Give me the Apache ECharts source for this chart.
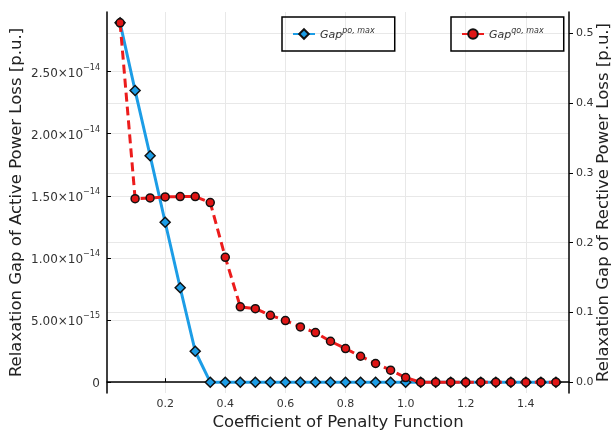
<!DOCTYPE html>
<html>
<head>
<meta charset="utf-8">
<script src="https://cdn.jsdelivr.net/npm/echarts@6/dist/echarts.min.js"></script>
<style>
  html, body { margin: 0; padding: 0; background: #fff; }
  #chart { width: 615px; height: 433px; }
</style>
</head>
<body>
<div id="chart"></div>
<script>
// coefficient of penalty function
const coef = [0.05, 0.10, 0.15, 0.20, 0.25, 0.30, 0.35, 0.40, 0.45, 0.50,
              0.55, 0.60, 0.65, 0.70, 0.75, 0.80, 0.85, 0.90, 0.95, 1.00,
              1.05, 1.10, 1.15, 1.20, 1.25, 1.30, 1.35, 1.40, 1.45, 1.50];
// active power loss gap (left axis)
const gapPo = [2.892e-14, 2.347e-14, 1.822e-14, 1.287e-14, 0.760e-14, 0.249e-14, 0, 0, 0, 0,
               0, 0, 0, 0, 0, 0, 0, 0, 0, 0,
               0, 0, 0, 0, 0, 0, 0, 0, 0, 0];
// reactive power loss gap (right axis)
const gapQo = [0.515, 0.263, 0.264, 0.2655, 0.266, 0.266, 0.2575, 0.179, 0.108, 0.1054,
               0.0959, 0.0883, 0.0793, 0.0711, 0.0587, 0.0482, 0.0372, 0.0268, 0.0172, 0.0067,
               0, 0, 0, 0, 0, 0, 0, 0, 0, 0];

const xTicks = [0.2, 0.4, 0.6, 0.8, 1.0, 1.2, 1.4];
const leftTicks = [0, 5e-15, 1e-14, 1.5e-14, 2e-14, 2.5e-14];
const leftMant = ['0', '5.00', '1.00', '1.50', '2.00', '2.50'];
const leftExp = ['', '−15', '−14', '−14', '−14', '−14'];
const rightTicks = [0, 0.1, 0.2, 0.3, 0.4, 0.5];

const pairs = (ys) => coef.map((x, i) => [x, ys[i]]);

const fontFamily = 'DejaVu Sans';
const gridColor = '#e8e8e8';

const legendRich = {
  g: { fontSize: 11, fontStyle: 'italic', color: '#333', lineHeight: 14, verticalAlign: 'bottom' },
  s: { fontSize: 8, fontStyle: 'italic', color: '#333', lineHeight: 14, verticalAlign: 'top', padding: [0, 0, 5, 0] }
};

const chart = echarts.init(document.getElementById('chart'));
chart.setOption({
  animation: false,
  textStyle: { fontFamily: fontFamily },
  grid: { left: 107, right: 46, top: 12, bottom: 40, containLabel: false, outerBoundsMode: 'none' },
  legend: [
    {
      data: ['po'],
      left: 282, top: 17,
      padding: [10, 20, 10, 10],
      borderColor: '#000', borderWidth: 1.5,
      itemWidth: 22, itemHeight: 12,
      formatter: () => '{g|Gap}{s|po, max}',
      textStyle: { rich: legendRich }
    },
    {
      data: ['qo'],
      left: 451, top: 17,
      padding: [10, 20, 10, 10],
      borderColor: '#000', borderWidth: 1.5,
      itemWidth: 22, itemHeight: 12,
      formatter: () => '{g|Gap}{s|qo, max}',
      textStyle: { rich: legendRich }
    }
  ],
  xAxis: {
    type: 'value',
    min: 0.0065, max: 1.5435,
    name: 'Coefficient of Penalty Function',
    nameLocation: 'middle', nameGap: 21, nameMoveOverlap: false,
    nameTextStyle: { fontSize: 16.5, color: '#222' },
    axisLine: { show: true, lineStyle: { color: '#000', width: 1.5 } },
    axisTick: { show: true, inside: true, length: 4, customValues: xTicks, lineStyle: { color: '#000' } },
    axisLabel: { customValues: xTicks, fontSize: 11, color: '#333', margin: 6,
                 formatter: (v) => v.toFixed(1) },
    splitLine: { show: true, lineStyle: { color: gridColor } }
  },
  yAxis: [
    {
      type: 'value',
      min: -8.68e-16, max: 2.979e-14,
      name: 'Relaxation Gap of Active Power Loss [p.u.]',
      nameLocation: 'middle', nameGap: 82, nameMoveOverlap: false,
      nameTextStyle: { fontSize: 16.5, color: '#222' },
      axisLine: { show: true, lineStyle: { color: '#000', width: 1.5 } },
      axisTick: { show: true, inside: true, length: 4, customValues: leftTicks, lineStyle: { color: '#000' } },
      axisLabel: {
        customValues: leftTicks, margin: 7,
        formatter: (v) => {
          let i = 0;
          leftTicks.forEach((t, k) => { if (Math.abs(t - v) < Math.abs(leftTicks[i] - v)) i = k; });
          if (!leftExp[i]) return '{m|' + leftMant[i] + '}';
          return '{m|' + leftMant[i] + '×10}{e|' + leftExp[i] + '}';
        },
        rich: {
          m: { fontSize: 12, color: '#333', lineHeight: 16, verticalAlign: 'bottom' },
          e: { fontSize: 8, color: '#333', lineHeight: 16, verticalAlign: 'top' }
        }
      },
      splitLine: { show: true, lineStyle: { color: gridColor } }
    },
    {
      type: 'value',
      min: -0.01545, max: 0.5305,
      position: 'right',
      name: 'Relaxation Gap of Rective Power Loss [p.u.]',
      nameLocation: 'middle', nameGap: 26, nameMoveOverlap: false,
      nameRotate: 90,
      nameTextStyle: { fontSize: 16.5, color: '#222' },
      axisLine: { show: true, lineStyle: { color: '#000', width: 1.5 } },
      axisTick: { show: true, inside: false, length: 4, customValues: rightTicks, lineStyle: { color: '#000' } },
      axisLabel: { customValues: rightTicks, fontSize: 11, color: '#333', margin: 7,
                   formatter: (v) => v.toFixed(1) },
      splitLine: { show: true, lineStyle: { color: gridColor } }
    }
  ],
  series: [
    {
      name: 'po',
      type: 'line',
      yAxisIndex: 0,
      data: pairs(gapPo),
      symbol: 'diamond', symbolSize: 10,
      color: '#1c9de6',
      lineStyle: { width: 3, color: '#1c9de6' },
      itemStyle: { color: '#1c9de6', borderColor: '#111', borderWidth: 1.5 },
      z: 2
    },
    {
      name: 'qo',
      type: 'line',
      yAxisIndex: 1,
      data: pairs(gapQo),
      symbol: 'circle', symbolSize: 8,
      color: '#ec1c1c',
      lineStyle: { width: 3, color: '#ec1c1c', type: [9, 5] },
      itemStyle: { color: '#e01515', borderColor: '#111', borderWidth: 1.5 },
      z: 3
    }
  ]
});
</script>
</body>
</html>
